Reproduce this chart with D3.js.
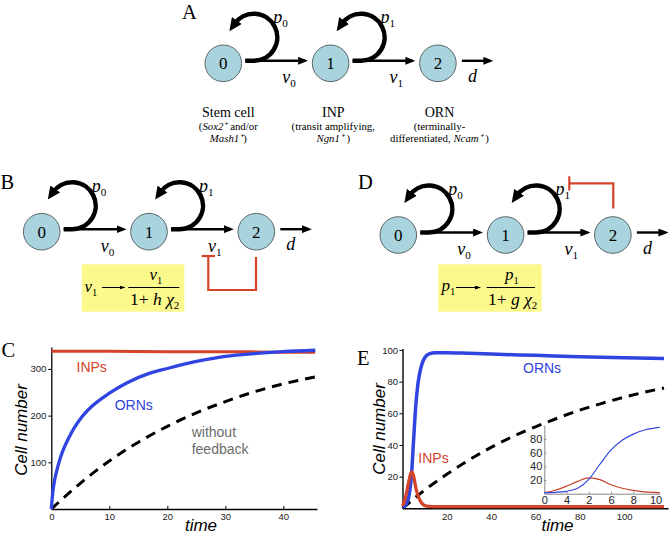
<!DOCTYPE html>
<html><head><meta charset="utf-8">
<script src="https://cdn.jsdelivr.net/npm/d3@7"></script>
<style>body{margin:0;background:#fff}svg{display:block}</style>
</head><body><svg id="fig" width="669" height="534"></svg>
<script>
// ---------- Panel C data ----------
const cOrnTime  = [0,0.25,0.5,1,1.5,2,3,4,5,7,10,13,17,20,25,30,35,40,45.5];
const cOrnValue = [0,35,57,85,107,125,152,175,193,220,248,270,291,301,316,327,333,337,340];
const cInpTime  = [0,10,20,30,40,45.5];
const cInpValue = [338,338,337,337,336,336];
const cNoFbTime  = [0,5,10,15,20,25,30,35,40,45.5];
const cNoFbValue = [0,55,103,143,177,206,230,251,268,283];
const cXTicks = [0,10,20,30,40];
const cYTicks = [100,200,300];
// ---------- Panel E data ----------
const eOrnTime  = [0,1,2,3,4,5,6,7,8,9,10,12,15,20,30,40,60,80,100,118];
const eOrnValue = [0.5,1.5,3.5,8.5,20,43,65,79,87,92,95,97.5,98.3,98.3,97.9,97.4,96.6,95.8,95.1,94.6];
const eInpTime  = [0,1,2,3,4,5,6,7,8,9,10,12,15,20,40,60,80,100,118];
const eInpValue = [1.5,5,11,18,23,20.5,13,8,4.8,2.8,1.8,1.2,1,1,1,1,1,1,1];
const eNoFbTime  = [0,10,20,30,40,50,60,70,80,90,100,110,118];
const eNoFbValue = [0,11.5,21.5,30.5,38.5,45.5,51.5,57,62,66.3,70.2,73.6,76];
const eXTicks = [20,40,60,80,100];
const eYTicks = [20,40,60,80,100];
// ---------- Inset data ----------
const insetTime     = [0,1,2,3,4,5,6,7,8,9,10,10.4];
const insetOrnValue = [1.5,2,3.5,8,21,43,64,78,87,93,96,97];
const insetInpValue = [1.5,5,11,18,23,20.5,13,8,4.8,2.8,1.8,1.5];
const insetXTicks  = [0,2,4,6,8,10];
const insetXLabels = ["0","4","2","6","8","10"];
const insetYTicks  = [20,40,60,80];
// ---------- Diagram text ----------
const stageNames = ["Stem cell","INP","ORN"];
const stageNotes = [
  [[["(",""],["Sox2\u207A","i"],[" and/or",""]], [["Mash1\u207A","i"],[")",""]]],
  [[["(transit amplifying,",""]], [["Ngn1\u207A","i"],[" )",""]]],
  [[["(terminally-",""]], [["differentiated, ",""],["Ncam\u207A","i"],[" )",""]]]
];
const panelLetters = ["A","B","C","D","E"];

const RED = "#d4442a", BLUE = "#2f44e0", GRAY = "#6b6b6b";
const SERIF = "'Liberation Serif','Times New Roman',serif";
const SANS = "'Liberation Sans',Arial,Helvetica,sans-serif";

const svg = d3.select("#fig");
svg.append("rect").attr("width",669).attr("height",534).attr("fill","#fff");
const defs = svg.append("defs");
function marker(id, w, h, refX, color) {
  defs.append("marker").attr("id", id).attr("viewBox", `0 0 ${w} ${h}`)
    .attr("refX", refX).attr("refY", h/2).attr("markerWidth", w).attr("markerHeight", h)
    .attr("markerUnits","userSpaceOnUse").attr("orient","auto")
    .append("path").attr("d", `M0,0L${w},${h/2}L0,${h}Z`).attr("fill", color);
}
marker("ah", 10, 8, 7, "#000");
marker("ahL", 13, 12, 4, "#000");
marker("ahS", 6, 4, 5, "#000");

// panel letters
const letterPos = {A:[182,18.5],B:[0.5,189],C:[1.5,357],D:[358,189],E:[357,365]};
panelLetters.forEach(l => {
  svg.append("text").attr("x", letterPos[l][0]).attr("y", letterPos[l][1])
    .attr("font-family", SERIF).attr("font-size", 20.5).text(l);
});

function varLabel(g, x, y, main, sub, size) {
  const t = g.append("text").attr("x", x).attr("y", y).attr("font-family", SERIF)
    .attr("font-size", size || 18);
  t.append("tspan").attr("font-style","italic").text(main);
  if (sub !== undefined) t.append("tspan").attr("dy", 4).attr("font-size", (size||18)*0.62).text(sub);
  return t;
}

function chain(cx0, cy) {
  const g = svg.append("g");
  const step = 107.3, r = 18.3;
  const cs = [cx0, cx0 + step, cx0 + 2*step];
  [0,1].forEach(i => {
    const c = cs[i];
    const lx = c + 30.5, ly = cy - 26, lr = 23.5;
    const a = -145 * Math.PI / 180;
    const ex = lx + lr*Math.cos(a), ey = ly + lr*Math.sin(a);
    g.append("line").attr("x1", c + 22).attr("y1", cy - 2.5)
      .attr("x2", cs[i+1] - 22.5 - 3).attr("y2", cy - 2.5)
      .attr("stroke","#000").attr("stroke-width", 2.4).attr("marker-end","url(#ah)");
    g.append("path").attr("d", `M${c+22},${cy-2.5}L${lx},${ly+lr}A${lr},${lr} 0 1 0 ${ex},${ey}`)
      .attr("fill","none").attr("stroke","#000").attr("stroke-width", 4.5)
      .attr("marker-end","url(#ahL)");
    varLabel(g, c + 50, cy - 40, "p", String(i));
    varLabel(g, c + 59, cy + 20, "v", String(i));
  });
  g.append("line").attr("x1", cs[2] + 24).attr("y1", cy - 2.5)
    .attr("x2", cs[2] + 55.5 - 3).attr("y2", cy - 2.5)
    .attr("stroke","#000").attr("stroke-width", 2.4).attr("marker-end","url(#ah)");
  varLabel(g, cs[2] + 30, cy + 18.5, "d");
  cs.forEach((c, i) => {
    g.append("circle").attr("cx", c).attr("cy", cy).attr("r", r)
      .attr("fill","#a9d4de").attr("stroke","#5a6468").attr("stroke-width", 1);
    g.append("text").attr("x", c).attr("y", cy + 6).attr("text-anchor","middle")
      .attr("font-family", SERIF).attr("font-size", 17).text(String(i));
  });
  return cs;
}

// ---------- Panel A ----------
chain(223.3, 63.3);
const noteCenters = [228.3, 333.3, 439.5];
stageNames.forEach((n, i) => {
  svg.append("text").attr("x", noteCenters[i]).attr("y", 117).attr("text-anchor","middle")
    .attr("font-family", SERIF).attr("font-size", 14).text(n);
  stageNotes[i].forEach((line, j) => {
    const t = svg.append("text").attr("x", noteCenters[i]).attr("y", 130 + j*12.3)
      .attr("text-anchor","middle").attr("font-family", SERIF).attr("font-size", 10.8);
    line.forEach(([s, k]) => {
      const sp = t.append("tspan").text(s);
      if (k === "i") sp.attr("font-style","italic");
    });
  });
});

// ---------- Panel B ----------
chain(41.7, 231.7);
svg.append("rect").attr("x",81.7).attr("y",264.3).attr("width",102.6).attr("height",47.4).attr("fill","#fcf98c");
varLabel(svg, 84.5, 292, "v", "1", 17);
svg.append("line").attr("x1",102).attr("y1",287.5).attr("x2",124.5).attr("y2",287.5)
  .attr("stroke","#000").attr("stroke-width",1).attr("marker-end","url(#ahS)");
varLabel(svg, 149.5, 280, "v", "1", 17);
svg.append("line").attr("x1",128.3).attr("y1",287.5).attr("x2",179.3).attr("y2",287.5).attr("stroke","#000").attr("stroke-width",1);
{
  const t = svg.append("text").attr("x",130).attr("y",305).attr("font-family",SERIF).attr("font-size",17.5);
  t.append("tspan").text("1+ ");
  t.append("tspan").attr("font-style","italic").text("h χ");
  t.append("tspan").attr("dy",4).attr("font-size",11).text("2");
}
svg.append("path").attr("d","M208.3,256L208.3,290L256,290L256,257").attr("fill","none").attr("stroke",RED).attr("stroke-width",2.2);
svg.append("line").attr("x1",201.7).attr("x2",215).attr("y1",256).attr("y2",256).attr("stroke",RED).attr("stroke-width",2.2);

// ---------- Panel D ----------
chain(398.3, 235);
svg.append("rect").attr("x",438.3).attr("y",264.3).attr("width",103.4).attr("height",47.4).attr("fill","#fcf98c");
varLabel(svg, 441.5, 291, "p", "1", 17);
svg.append("line").attr("x1",456).attr("y1",287.5).attr("x2",480).attr("y2",287.5)
  .attr("stroke","#000").attr("stroke-width",1).attr("marker-end","url(#ahS)");
varLabel(svg, 505, 280, "p", "1", 17);
svg.append("line").attr("x1",486.7).attr("y1",287.5).attr("x2",535).attr("y2",287.5).attr("stroke","#000").attr("stroke-width",1);
{
  const t = svg.append("text").attr("x",488).attr("y",305).attr("font-family",SERIF).attr("font-size",17.5);
  t.append("tspan").text("1+ ");
  t.append("tspan").attr("font-style","italic").text("g χ");
  t.append("tspan").attr("dy",4).attr("font-size",11).text("2");
}
svg.append("path").attr("d","M613.3,208.5L613.3,183.3L569.3,183.3").attr("fill","none").attr("stroke",RED).attr("stroke-width",2.2);
svg.append("line").attr("x1",569.3).attr("x2",569.3).attr("y1",176.3).attr("y2",190.5).attr("stroke",RED).attr("stroke-width",2.2);

// ---------- helpers for plots ----------
function styleAxis(g, color, size, stroke) {
  g.selectAll(".domain").attr("stroke", color).attr("stroke-width", stroke);
  g.selectAll(".tick line").attr("stroke", color).attr("stroke-width", 1);
  g.selectAll(".tick text").attr("font-family", SANS).attr("font-size", size).attr("fill","#222");
}
function lineOf(x, y) { return d3.line().x(d => x(d[0])).y(d => y(d[1])).curve(d3.curveMonotoneX); }
function axisTitles(xc, xb, yx, yc) {
  svg.append("text").attr("x", xc).attr("y", xb).attr("text-anchor","middle")
    .attr("font-family", SANS).attr("font-style","italic").attr("font-size", 17).text("time");
  svg.append("text").attr("transform", `translate(${yx},${yc}) rotate(-90)`).attr("text-anchor","middle")
    .attr("font-family", SANS).attr("font-style","italic").attr("font-size", 17).text("Cell number");
}
function seriesLabel(x, y, txt, color) {
  svg.append("text").attr("x", x).attr("y", y).attr("font-family", SANS).attr("font-size", 14)
    .attr("fill", color).text(txt);
}

// ---------- Panel C ----------
const xC = d3.scaleLinear().domain([0, 45.8]).range([51.3, 317]);
const yC = d3.scaleLinear().domain([0, 347]).range([509, 347]);
const gCx = svg.append("g").attr("transform","translate(0,509)")
  .call(d3.axisBottom(xC).tickValues(cXTicks).tickSize(-3).tickSizeOuter(0).tickPadding(4));
styleAxis(gCx, "#000", 9.5, 1.3);
const gCy = svg.append("g").attr("transform","translate(51.3,0)")
  .call(d3.axisLeft(yC).tickValues(cYTicks).tickSize(3).tickSizeOuter(0).tickPadding(2));
styleAxis(gCy, "#000", 9.5, 1.3);
svg.append("path").datum(d3.zip(cNoFbTime, cNoFbValue)).attr("d", lineOf(xC, yC))
  .attr("fill","none").attr("stroke","#000").attr("stroke-width",3).attr("stroke-dasharray","10,7");
svg.append("path").datum(d3.zip(cInpTime, cInpValue)).attr("d", lineOf(xC, yC))
  .attr("fill","none").attr("stroke",RED).attr("stroke-width",3);
svg.append("path").datum(d3.zip(cOrnTime, cOrnValue)).attr("d", lineOf(xC, yC))
  .attr("fill","none").attr("stroke",BLUE).attr("stroke-width",3.3);
seriesLabel(76.5, 371.7, "INPs", RED);
seriesLabel(114.7, 410, "ORNs", BLUE);
seriesLabel(191.7, 436.5, "without", GRAY);
seriesLabel(191.7, 454, "feedback", GRAY);
axisTitles(201, 531, 26.5, 430);

// ---------- Panel E ----------
const xE = d3.scaleLinear().domain([0, 119.8]).range([402.5, 668]);
const yE = d3.scaleLinear().domain([0, 101]).range([508.3, 348.4]);
const gEx = svg.append("g").attr("transform","translate(0,508.3)")
  .call(d3.axisBottom(xE).tickValues(eXTicks).tickSize(-3).tickSizeOuter(0).tickPadding(5));
styleAxis(gEx, "#000", 9.5, 1.4);
const gEy = svg.append("g").attr("transform","translate(402.5,0)")
  .call(d3.axisLeft(yE).tickValues(eYTicks).tickSize(3).tickSizeOuter(0).tickPadding(1.5));
styleAxis(gEy, "#000", 9.5, 1.4);
svg.append("path").datum(d3.zip(eNoFbTime, eNoFbValue)).attr("d", lineOf(xE, yE))
  .attr("fill","none").attr("stroke","#000").attr("stroke-width",3).attr("stroke-dasharray","10,7");
svg.append("path").datum(d3.zip(eOrnTime, eOrnValue)).attr("d", lineOf(xE, yE))
  .attr("fill","none").attr("stroke",BLUE).attr("stroke-width",3.5);
svg.append("path").datum(d3.zip(eInpTime, eInpValue)).attr("d", lineOf(xE, yE))
  .attr("fill","none").attr("stroke",RED).attr("stroke-width",3.3);
seriesLabel(523, 373, "ORNs", BLUE);
seriesLabel(418.3, 463, "INPs", RED);
axisTitles(557.5, 531, 384.5, 429);

// ---------- Inset ----------
const xI = d3.scaleLinear().domain([0, 10.4]).range([544.3, 660]);
const yI = d3.scaleLinear().domain([0, 100]).range([493.7, 425.2]);
const gIx = svg.append("g").attr("transform","translate(0,493.7)")
  .call(d3.axisBottom(xI).tickValues(insetXTicks).tickFormat((d,i) => insetXLabels[i])
    .tickSize(-2).tickSizeOuter(0).tickPadding(2.5));
styleAxis(gIx, "#888", 11, 1);
const gIy = svg.append("g").attr("transform","translate(544.3,0)")
  .call(d3.axisLeft(yI).tickValues(insetYTicks).tickSize(-2).tickSizeOuter(0).tickPadding(2));
styleAxis(gIy, "#888", 11, 1);
svg.append("path").datum(d3.zip(insetTime, insetInpValue)).attr("d", lineOf(xI, yI))
  .attr("fill","none").attr("stroke","#c8432b").attr("stroke-width",1.2);
svg.append("path").datum(d3.zip(insetTime, insetOrnValue)).attr("d", lineOf(xI, yI))
  .attr("fill","none").attr("stroke","#3346dd").attr("stroke-width",1.2);
</script></body></html>
